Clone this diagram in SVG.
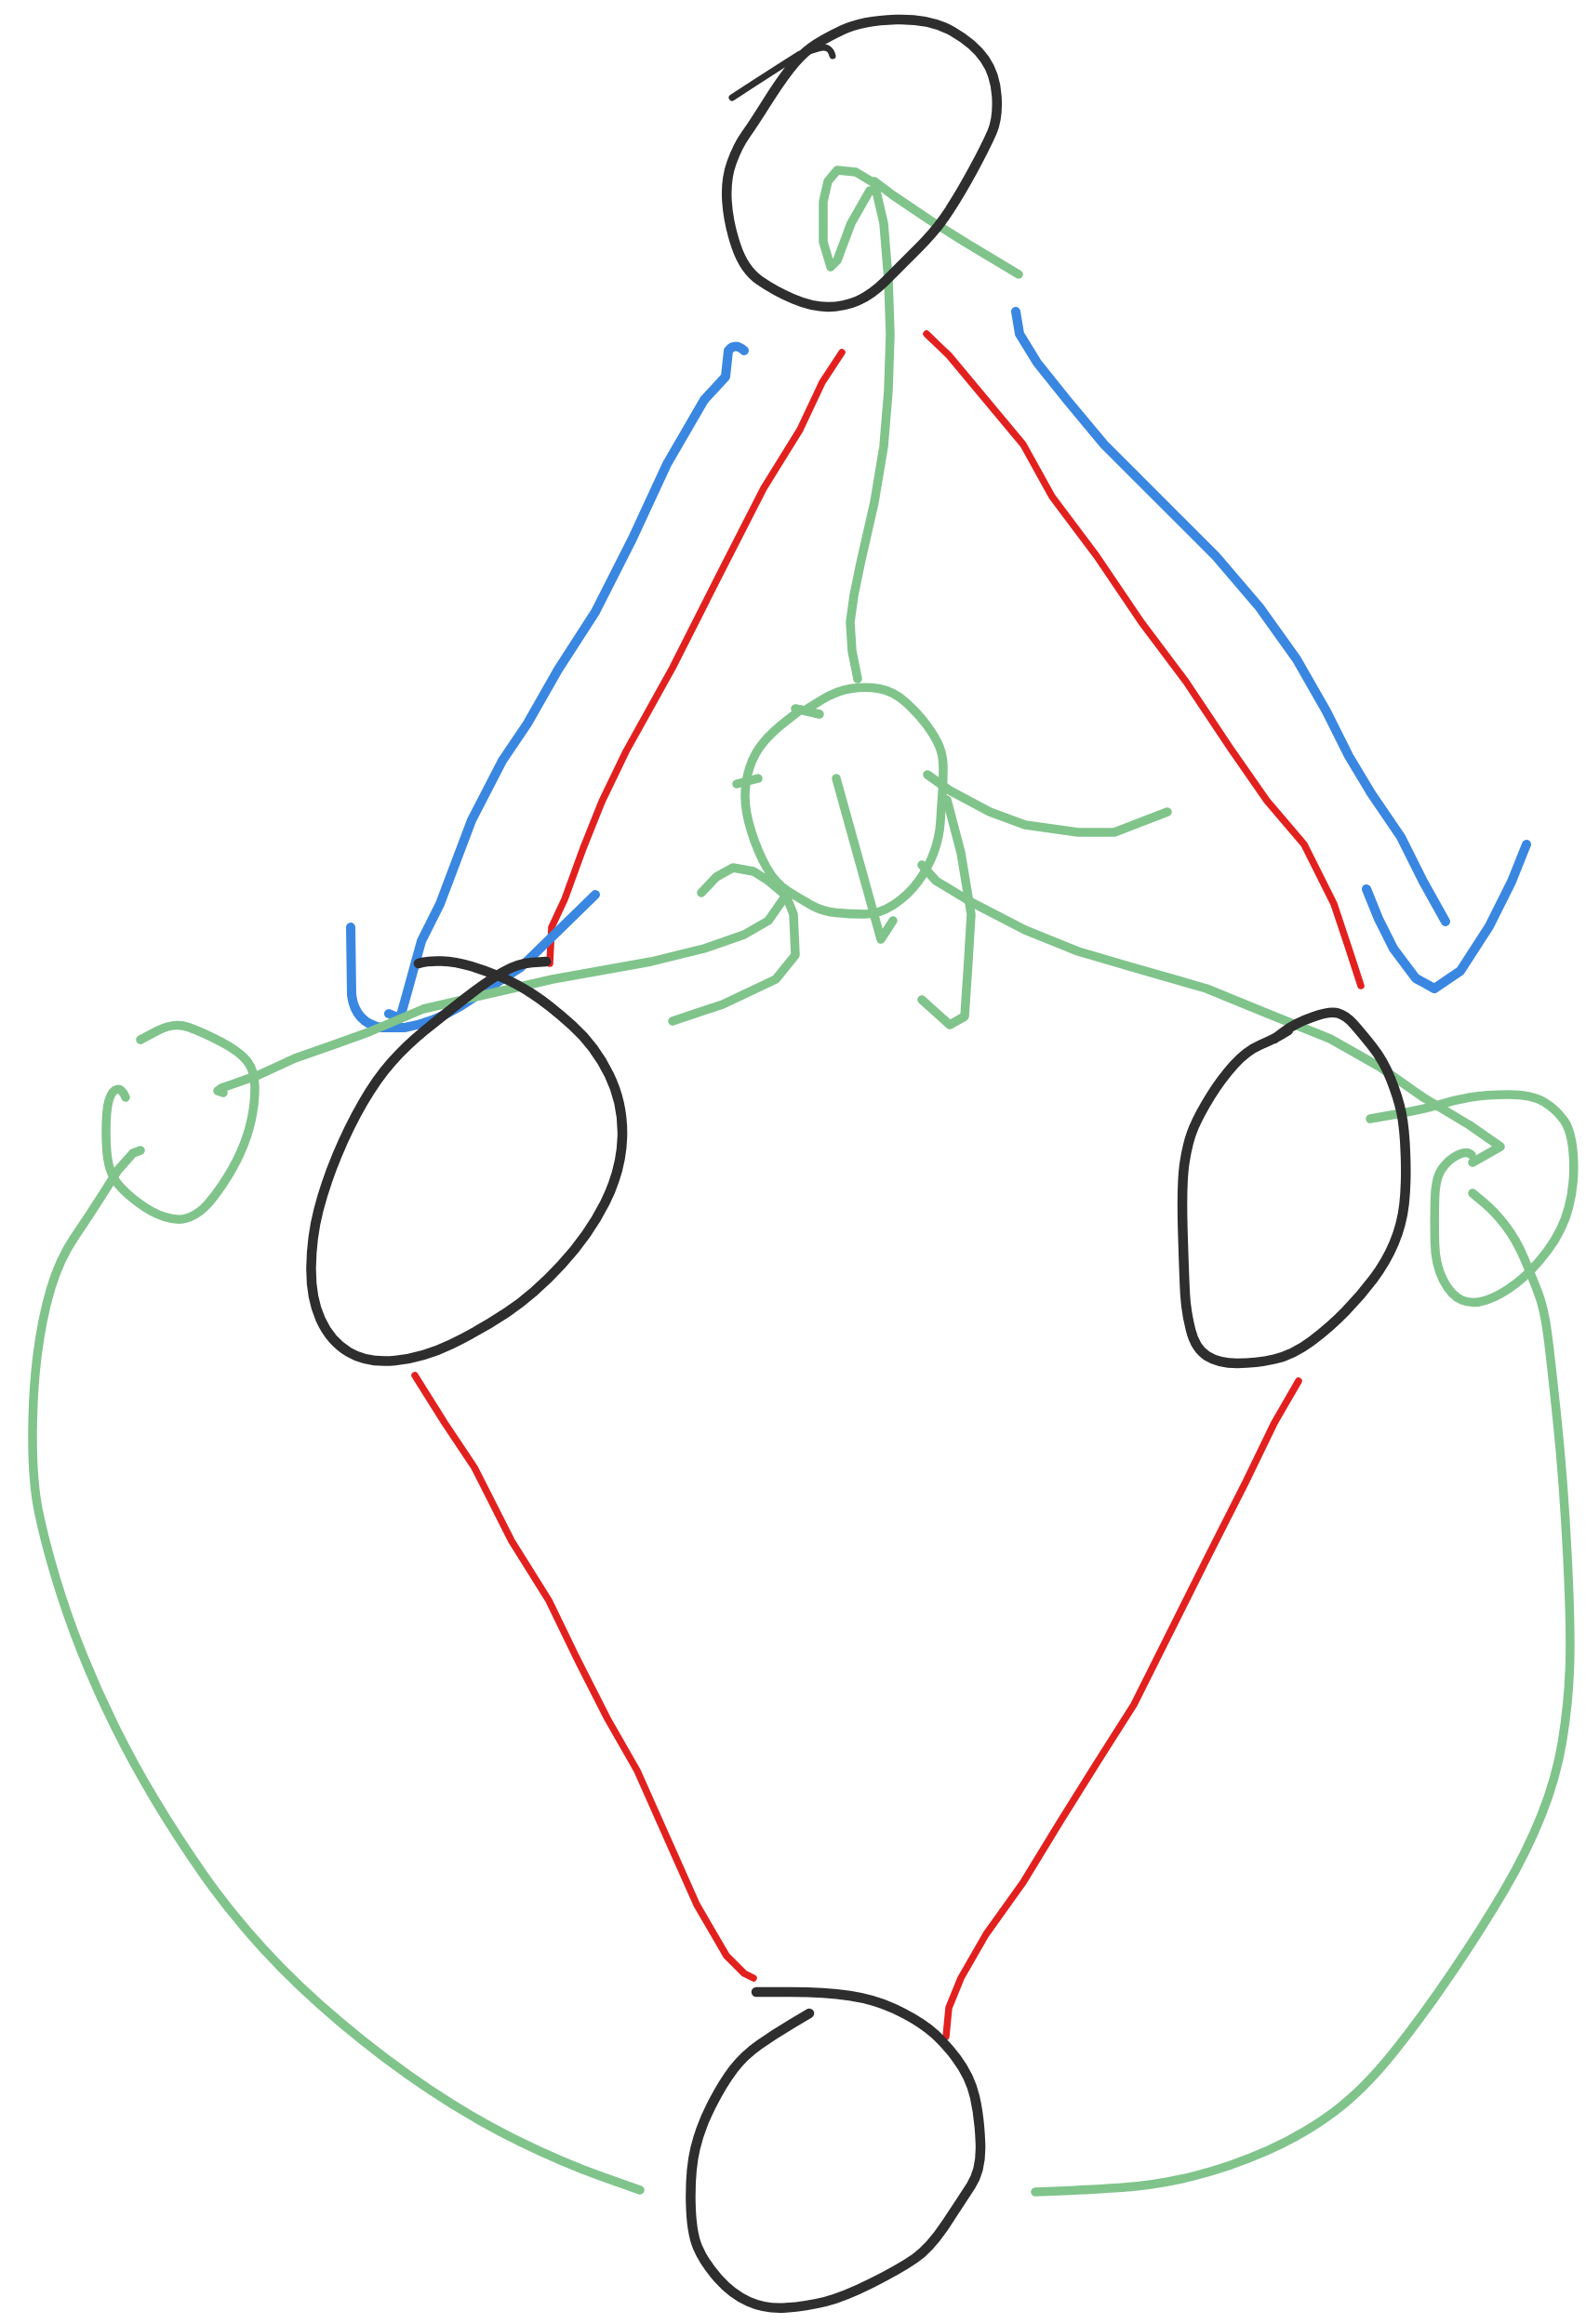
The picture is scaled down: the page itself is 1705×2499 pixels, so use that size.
<svg xmlns="http://www.w3.org/2000/svg" width="1705" height="2499" viewBox="0 0 1705 2499">
<style>
path{fill:none;stroke-linecap:round;stroke-linejoin:round}
.k{stroke:#2e2e2e;stroke-width:10.5}
.r{stroke:#e2211f;stroke-width:7.5}
.b{stroke:#3a87e2;stroke-width:10}
.g{stroke:#80c48b;stroke-width:9.5}
</style>
<rect width="1705" height="2499" fill="#ffffff"/>
<g id="connectors">
<path class="r" d="M905,379 L884,411 L860,462 L821,525 L773,619 L723,718 L673,808 L647,862 L627,912 L607,967 L593,997 L591,1036"/>
<path class="r" d="M996,359 L1020,382 L1060,430 L1100,478 L1131,534 L1179,598 L1227,669 L1275,733 L1323,805 L1362,861 L1402,908 L1434,972 L1450,1020 L1463,1060"/>
<path class="r" d="M446,1479 L478,1530 L510,1578 L550,1657 L590,1721 L621,1785 L653,1848 L685,1904 L717,1976 L749,2048 L781,2103 L800,2122 L810,2127"/>
<path class="r" d="M1396,1485 L1370,1530 L1339,1594 L1299,1673 L1259,1753 L1219,1833 L1179,1896 L1139,1960 L1100,2024 L1060,2080 L1033,2127 L1020,2159 L1017,2190"/>
<path class="b" d="M800,377 Q790,368 783,377 L780,405 L757,430 L717,499 L680,579 L640,658 L600,720 L567,778 L540,818 L507,882 L473,972 L453,1012 L437,1070 L430,1095 L418,1090"/>
<path class="b" d="M377,997 L378,1070 Q382,1100 410,1105 L435,1105 Q465,1100 495,1082 L560,1040 L640,962"/>
<path class="b" d="M1092,335 L1096,359 L1115,390 L1147,430 L1187,478 L1243,534 L1307,598 L1354,653 L1394,709 L1426,765 L1450,813 L1474,853 L1506,900 L1530,948 L1554,991"/>
<path class="b" d="M1469,956 L1482,988 L1498,1020 L1522,1052 L1542,1063 L1570,1044 L1601,996 L1625,948 L1641,908"/>
<path class="g" d="M922,730 L916,700 L914,669 L918,640 L925,606 L940,540 L950,480 L955,420 L957,360 L955,300 L950,240 L940,197"/>
<path class="g" d="M940,197 L920,185 L900,183 L890,195 L885,217 L885,260 L893,287 L900,280 L915,240 L935,205"/>
<path class="g" d="M940,195 L960,210 L1000,237 L1040,262 L1095,295"/>
<path class="g" d="M899,837 L947,1010 L960,990"/>
<path class="g" d="M997,833 L1021,850 L1064,873 L1102,887 L1159,895 L1198,895 L1255,873"/>
<path class="g" d="M1018,860 L1033,917 L1044,983 L1041,1033 L1037,1093 L1021,1102 L991,1075"/>
<path class="g" d="M991,930 L1006,947 L1044,970 L1102,1000 L1159,1023 L1217,1040 L1297,1063 L1363,1090 L1430,1117 L1483,1147 L1530,1180 L1580,1210 L1613,1233 L1583,1250"/>
<path class="g" d="M1473,1203 L1501.5,1198 Q1530,1193 1546.5,1188 Q1563,1183 1580,1180 Q1597,1177 1622,1177 Q1647,1177 1660,1185 Q1673,1193 1681.5,1205 Q1690,1217 1691.5,1245 Q1693,1273 1686.5,1298 Q1680,1323 1663.5,1345 Q1647,1367 1630,1380 Q1613,1393 1598,1398 Q1583,1403 1571.5,1398 Q1560,1393 1551.5,1376.5 Q1543,1360 1542.5,1336.5 Q1542,1313 1542.5,1290 Q1543,1267 1550,1257 Q1557,1247 1567,1242 Q1577,1237 1582,1242"/>
<path class="g" d="M1583,1283 L1595,1293 Q1607,1303 1618.5,1318 Q1630,1333 1638.5,1353 Q1647,1373 1653.5,1390 Q1660,1407 1663.5,1433.5 Q1667,1460 1674,1527 Q1681,1594 1685,1673.5 Q1689,1753 1687.5,1793 Q1686,1833 1679.5,1872.5 Q1673,1912 1657,1952 Q1641,1992 1617.5,2032 Q1594,2072 1562,2119.5 Q1530,2167 1498,2207 Q1466,2247 1434,2271 Q1402,2295 1362.5,2312.5 Q1323,2330 1283,2340 Q1243,2350 1203,2352.5 Q1163,2355 1138,2356 L1113,2357"/>
<path class="g" d="M842,967 L826,990 L800,1005 L757,1020 L700,1034 L594,1053 L515,1071 L455,1085 L396,1110 L357,1124 L317,1138 L278,1156 L238,1170 L234,1173 L240,1175"/>
<path class="g" d="M754,960 L770,943 L788,933 L810,937 L826,947 L845,963 L853,983 L855,1027 L834,1053 L777,1080 L723,1098"/>
<path class="g" d="M151,1118 L169,1108.5 Q187,1099 202.5,1104.5 Q218,1110 238,1120.5 Q258,1131 266,1141.5 Q274,1152 274,1169.5 Q274,1187 270,1205 Q266,1223 258,1240.5 Q250,1258 238,1275.5 Q226,1293 218,1300 Q210,1307 200.5,1310 Q191,1313 177,1308.5 Q163,1304 149,1293.5 Q135,1283 127.5,1274 Q120,1265 117,1252.5 Q114,1240 114,1217 Q114,1194 117,1183.5 Q120,1173 125.5,1171.5 Q131,1170 135,1180"/>
<path class="g" d="M151,1237 L143,1240 L127,1258 L111.5,1282.5 Q96,1307 80,1330.5 Q64,1354 54.5,1386 Q45,1418 40,1458 Q35,1498 35,1546 Q35,1594 41.5,1625.5 Q48,1657 60,1697 Q72,1737 88,1777 Q104,1817 123.5,1856.5 Q143,1896 167,1936 Q191,1976 219,2016 Q247,2056 283,2095.5 Q319,2135 366.5,2175 Q414,2215 462,2247 Q510,2279 558,2302.5 Q606,2326 647,2340.5 L688,2355"/>
</g>
<g id="node-top">
<path class="k" d="M963.5,21 Q1000,20 1023.5,33.5 Q1047,47 1058.5,63.5 Q1070,80 1071.5,103.5 Q1073,127 1066.5,142 Q1060,157 1046.5,182 Q1033,207 1020,227 Q1007,247 987,267 Q967,287 952,302 Q937,317 922,323.5 Q907,330 890,330 Q873,330 853,321.5 Q833,313 816.5,301.5 Q800,290 791.5,265 Q783,240 781.5,216.5 Q780,193 786.5,175 Q793,157 801.5,145 Q810,133 823.5,111.5 Q837,90 848.5,75 Q860,60 871.5,51.5 Q883,43 905,32.5 Q927,22 963.5,21 Z"/>
<path class="k" style="stroke-width:7" d="M895,60 Q892,48 880,52 L860,58 L838,72 L810,90 L787,105"/>
</g>
<g id="node-center">
<path class="g" d="M861,763 L845.5,775 Q830,787 820.5,798.5 Q811,810 806,825 Q801,840 801,856.5 Q801,873 808,895 Q815,917 824.5,933.5 Q834,950 847.5,958.5 Q861,967 872.5,973.5 Q884,980 899,981.5 Q914,983 929.5,983 Q945,983 960.5,973 Q976,963 987,948 Q998,933 1004,916.5 Q1010,900 1011,883.5 Q1012,867 1013,853.5 Q1014,840 1014,826.5 Q1014,813 1010,803 Q1006,793 996.5,780 Q987,767 973.5,755 Q960,743 945,740.5 Q930,738 914.5,740.5 Q899,743 883.5,752.5 L868,762"/>
<path class="g" d="M855,762 L881,768"/>
<path class="g" d="M792,843 L815,837"/>
</g>
<g id="node-left">
<path class="k" d="M587,1034 L572,1035 Q557,1036 541,1045 Q525,1054 500,1073.5 Q475,1093 456,1108.5 Q437,1124 421,1142 Q405,1160 390,1186 Q375,1212 362.5,1242 Q350,1272 342.5,1301 Q335,1330 334.5,1362.5 Q334,1395 344.5,1418.5 Q355,1442 375,1454 Q395,1466 425,1463 Q455,1460 485,1445.5 Q515,1431 544.5,1411.5 Q574,1392 603.5,1360 Q633,1328 650.5,1293 Q668,1258 669,1222.5 Q670,1187 655,1156 Q640,1125 615,1102.5 Q590,1080 572,1068.5 Q554,1057 538.5,1050.5 Q523,1044 506.5,1039 Q490,1034 474.5,1033.5 Q459,1033 450,1036"/>
</g>
<g id="node-right">
<path class="k" d="M1370,1117 L1381.5,1108.5 Q1393,1100 1411.5,1093.5 Q1430,1087 1438.5,1089.5 Q1447,1092 1455,1101 Q1463,1110 1475,1125 Q1487,1140 1495,1160 Q1503,1180 1506.5,1196.5 Q1510,1213 1511,1243 Q1512,1273 1509.5,1295 Q1507,1317 1498.5,1337 Q1490,1357 1476.5,1375 Q1463,1393 1446.5,1410 Q1430,1427 1410,1442 Q1390,1457 1370,1461.5 Q1350,1466 1330,1466 Q1310,1466 1297.5,1458 Q1285,1450 1280,1430 Q1275,1410 1274,1391.5 Q1273,1373 1271.5,1323 Q1270,1273 1273.5,1250 Q1277,1227 1283.5,1212 Q1290,1197 1301.5,1178.5 Q1313,1160 1326.5,1145 Q1340,1130 1355,1123.5 Q1370,1117 1377.5,1112.5 L1385,1108"/>
</g>
<g id="node-bottom">
<path class="k" d="M813,2142 L850,2142 Q887,2142 913.5,2146 Q940,2150 961.5,2160 Q983,2170 998,2181.5 Q1013,2193 1028,2213 Q1043,2233 1048,2255 Q1053,2277 1054,2305 Q1055,2333 1044,2350 Q1033,2367 1016.5,2392 Q1000,2417 983.5,2428.5 Q967,2440 937,2455 Q907,2470 887,2475 Q867,2480 845,2481.5 Q823,2483 805,2475 Q787,2467 772,2450 Q757,2433 750,2416.5 Q743,2400 742.5,2366.5 Q742,2333 747.5,2310 Q753,2287 765,2263.5 Q777,2240 788.5,2225 Q800,2210 816.5,2198.5 Q833,2187 851.5,2176 L870,2165"/>
</g>
</svg>
